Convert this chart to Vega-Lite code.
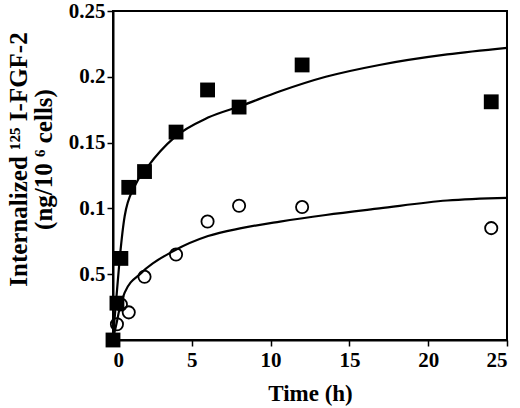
{
  "$schema": "https://vega.github.io/schema/vega-lite/v6.json",
  "autosize": {"type": "none"},
  "padding": {"left": 113, "top": 11, "right": 13, "bottom": 68},
  "width": 394,
  "height": 329,
  "background": "white",
  "config": {
    "font": "Liberation Serif",
    "view": {"stroke": "black", "strokeWidth": 2},
    "axis": {
      "grid": false,
      "domainColor": "black",
      "domainWidth": 2,
      "tickColor": "black",
      "tickWidth": 1.5,
      "tickSize": 6,
      "labelColor": "black",
      "labelFont": "Liberation Serif",
      "labelFontWeight": "bold",
      "labelFontSize": 21,
      "titleColor": "black",
      "titleFont": "Liberation Serif",
      "titleFontWeight": "bold",
      "titleFontSize": 23
    },
    "axisY": {"titleFontSize": 25}
  },
  "data": {
    "values": [
      {"series": "A", "kind": "obs", "t": 0, "y": 0},
      {"series": "A", "kind": "obs", "t": 0.25, "y": 0.028},
      {"series": "A", "kind": "obs", "t": 0.5, "y": 0.062},
      {"series": "A", "kind": "obs", "t": 1, "y": 0.116},
      {"series": "A", "kind": "obs", "t": 2, "y": 0.128},
      {"series": "A", "kind": "obs", "t": 4, "y": 0.158},
      {"series": "A", "kind": "obs", "t": 6, "y": 0.19},
      {"series": "A", "kind": "obs", "t": 8, "y": 0.177},
      {"series": "A", "kind": "obs", "t": 12, "y": 0.209},
      {"series": "A", "kind": "obs", "t": 24, "y": 0.181},
      {"series": "B", "kind": "obs", "t": 0, "y": 0},
      {"series": "B", "kind": "obs", "t": 0.25, "y": 0.012},
      {"series": "B", "kind": "obs", "t": 0.5, "y": 0.027},
      {"series": "B", "kind": "obs", "t": 1, "y": 0.021},
      {"series": "B", "kind": "obs", "t": 2, "y": 0.048},
      {"series": "B", "kind": "obs", "t": 4, "y": 0.065},
      {"series": "B", "kind": "obs", "t": 6, "y": 0.09},
      {"series": "B", "kind": "obs", "t": 8, "y": 0.102},
      {"series": "B", "kind": "obs", "t": 12, "y": 0.101},
      {"series": "B", "kind": "obs", "t": 24, "y": 0.085},
      {"series": "A", "kind": "fit", "t": 0, "y": 0},
      {"series": "A", "kind": "fit", "t": 0.1, "y": 0.016},
      {"series": "A", "kind": "fit", "t": 0.2, "y": 0.03},
      {"series": "A", "kind": "fit", "t": 0.42, "y": 0.061},
      {"series": "A", "kind": "fit", "t": 0.74, "y": 0.094},
      {"series": "A", "kind": "fit", "t": 1.38, "y": 0.117},
      {"series": "A", "kind": "fit", "t": 2.22, "y": 0.132},
      {"series": "A", "kind": "fit", "t": 3.9, "y": 0.154},
      {"series": "A", "kind": "fit", "t": 6.03, "y": 0.169},
      {"series": "A", "kind": "fit", "t": 8.14, "y": 0.178},
      {"series": "A", "kind": "fit", "t": 10.6, "y": 0.189},
      {"series": "A", "kind": "fit", "t": 13.5, "y": 0.2},
      {"series": "A", "kind": "fit", "t": 16.9, "y": 0.209},
      {"series": "A", "kind": "fit", "t": 21.2, "y": 0.217},
      {"series": "A", "kind": "fit", "t": 25, "y": 0.222},
      {"series": "B", "kind": "fit", "t": 0, "y": 0},
      {"series": "B", "kind": "fit", "t": 0.1, "y": 0.006},
      {"series": "B", "kind": "fit", "t": 0.25, "y": 0.014},
      {"series": "B", "kind": "fit", "t": 0.4, "y": 0.023},
      {"series": "B", "kind": "fit", "t": 0.74, "y": 0.036},
      {"series": "B", "kind": "fit", "t": 1.8, "y": 0.051},
      {"series": "B", "kind": "fit", "t": 3.9, "y": 0.068},
      {"series": "B", "kind": "fit", "t": 6.03, "y": 0.079},
      {"series": "B", "kind": "fit", "t": 8.14, "y": 0.085},
      {"series": "B", "kind": "fit", "t": 10.6, "y": 0.09},
      {"series": "B", "kind": "fit", "t": 13.5, "y": 0.095},
      {"series": "B", "kind": "fit", "t": 16.9, "y": 0.1},
      {"series": "B", "kind": "fit", "t": 21.2, "y": 0.106},
      {"series": "B", "kind": "fit", "t": 25, "y": 0.108}
    ]
  },
  "encoding": {
    "x": {
      "field": "t",
      "type": "quantitative",
      "scale": {"domain": [0, 25], "nice": false},
      "axis": {"values": [0, 5, 10, 15, 20, 25], "title": "Time (h)", "titlePadding": 12, "labelPadding": 3}
    },
    "y": {
      "field": "y",
      "type": "quantitative",
      "scale": {"domain": [0, 0.25], "nice": false},
      "axis": {
        "values": [0, 0.05, 0.1, 0.15, 0.2, 0.25],
        "labelExpr": "datum.value == 0 ? '' : datum.value == 0.05 ? '0.5' : '' + datum.value",
        "title": ["Internalized  ¹²⁵ I-FGF-2", "(ng/10 ⁶ cells)\u00a0\u00a0\u00a0\u00a0\u00a0\u00a0\u00a0\u00a0"],
        "titleLineHeight": 25,
        "titlePadding": 12,
        "titleY": 148,
        "labelPadding": 2
      }
    }
  },
  "layer": [
    {
      "transform": [{"filter": "datum.kind == 'fit'"}],
      "mark": {"type": "line", "color": "black", "strokeWidth": 2.2, "interpolate": "monotone"},
      "encoding": {"detail": {"field": "series"}}
    },
    {
      "transform": [{"filter": "datum.kind == 'obs' && datum.series == 'B'"}],
      "mark": {"type": "point", "shape": "circle", "filled": false, "stroke": "black", "strokeWidth": 1.8, "size": 150, "opacity": 1}
    },
    {
      "transform": [{"filter": "datum.kind == 'obs' && datum.series == 'A'"}],
      "mark": {"type": "point", "shape": "square", "filled": true, "color": "black", "size": 220, "opacity": 1}
    }
  ]
}
